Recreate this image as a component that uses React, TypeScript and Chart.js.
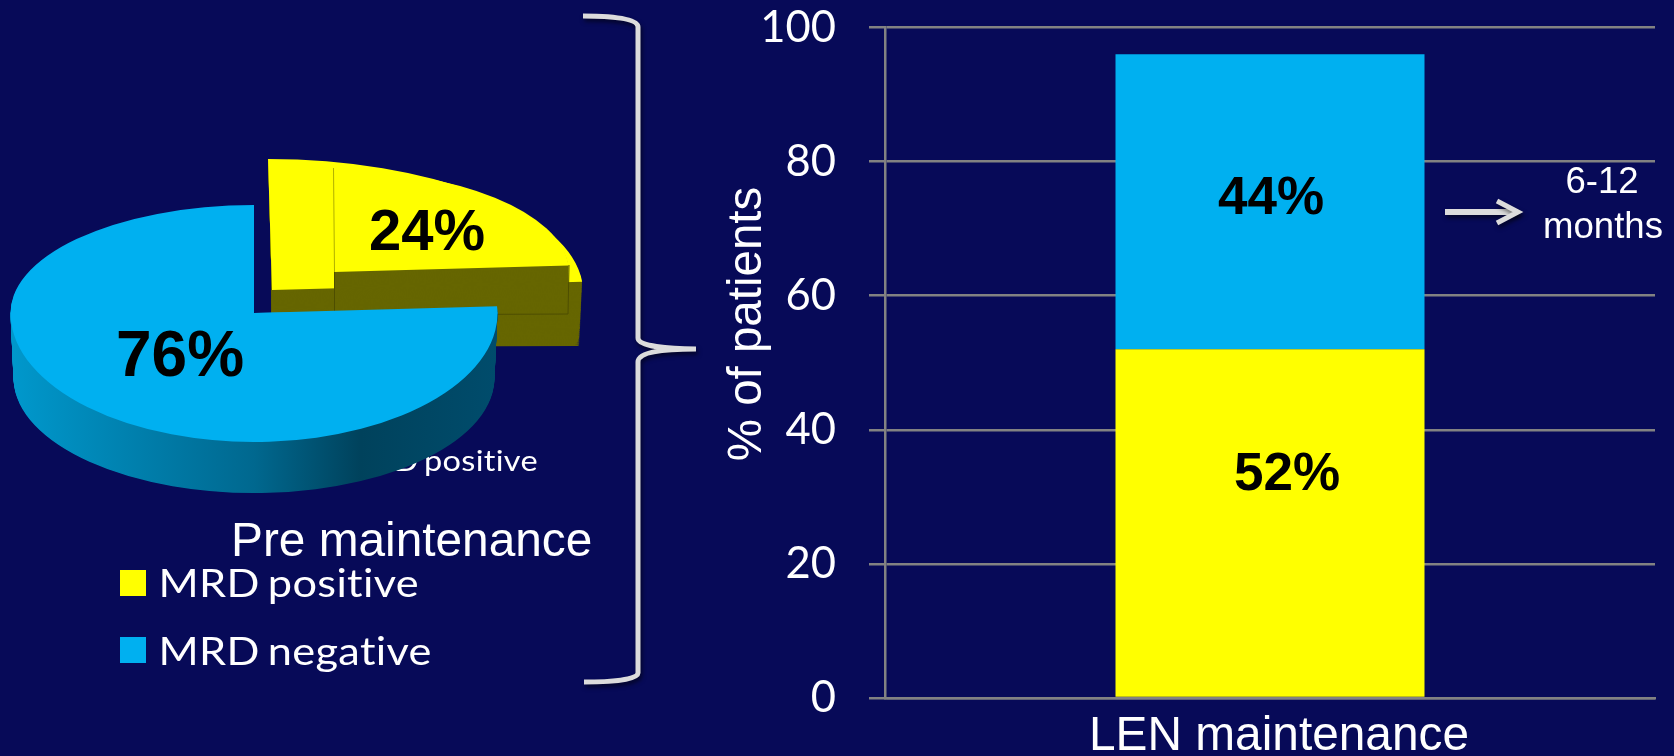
import React, { useEffect, useRef } from "react";
import { Chart, registerables } from "chart.js";

Chart.register(...registerables);

const barCategories = ["LEN maintenance"];
const mrdPositiveOnLen = [52];
const mrdNegativeOnLen = [44];
const barLabelTexts = ["52%", "44%"];
const barLabelValues = [33.8, 75];
const barLabelShift = [17, 1];
const yTicks = [0, 20, 40, 60, 80, 100];
const pieLabels = ["MRD positive", "MRD negative"];
const pieValues = [24, 76];
const pieTexts = ["24%", "76%"];

const BG = "#070a58";
const YELLOW = "#ffff00";
const BLUE = "#00b0f0";
const OLIVE = "#666600";
const GRID = "#828282";
const SANS = '"Liberation Sans", Arial, sans-serif';
const LATO = 'Lato, "Open Sans", sans-serif';

function text(ctx: any, s: string, x: number, y: number, font: string, color: string, align: any = "left", sx = 1, tight = false) {
  ctx.save();
  ctx.font = font;
  ctx.fillStyle = color;
  ctx.textAlign = align;
  ctx.textBaseline = "alphabetic";
  if (tight) {
    ctx.letterSpacing = "0.3px";
    ctx.wordSpacing = "-3px";
  }
  ctx.translate(x, y);
  ctx.scale(sx, 1);
  ctx.fillText(s, 0, 0);
  ctx.restore();
}

const annotations = {
  id: "annotations",
  afterDraw(chart: any) {
    const { ctx } = chart;
    const y = chart.scales.y;
    const meta = chart.getDatasetMeta(0).data[0];
    barLabelTexts.forEach((t, i) => {
      text(ctx, t, meta.x + barLabelShift[i], y.getPixelForValue(barLabelValues[i]) + 19, `bold 53px ${SANS}`, "#000", "center");
    });

    ctx.save();
    ctx.translate(745, 324);
    ctx.rotate(-Math.PI / 2);
    text(ctx, "% of patients", 0, 16, `47.5px ${SANS}`, "#fff", "center");
    ctx.restore();

    text(ctx, "6-12", 1602, 193, `36.6px ${SANS}`, "#fff", "center");
    text(ctx, "months", 1603, 238, `36.6px ${SANS}`, "#fff", "center");

    ctx.save();
    ctx.strokeStyle = "#dcdcdc";
    ctx.shadowColor = "rgba(0,0,0,0.55)";
    ctx.shadowBlur = 4;
    ctx.shadowOffsetX = 1.5;
    ctx.shadowOffsetY = 3;
    ctx.lineWidth = 5;
    ctx.beginPath();
    ctx.moveTo(583, 16);
    ctx.bezierCurveTo(610, 16, 638, 18, 638, 27);
    ctx.lineTo(638, 338);
    ctx.bezierCurveTo(638, 346, 668, 349, 696, 349);
    ctx.bezierCurveTo(668, 349, 638, 351, 638, 362);
    ctx.lineTo(638, 673);
    ctx.bezierCurveTo(638, 680, 610, 682, 584, 682);
    ctx.stroke();

    ctx.lineWidth = 6;
    ctx.beginPath();
    ctx.moveTo(1445, 212);
    ctx.lineTo(1518, 212);
    ctx.stroke();
    ctx.lineWidth = 5;
    ctx.beginPath();
    ctx.moveTo(1497, 201);
    ctx.lineTo(1518, 212);
    ctx.lineTo(1497, 223);
    ctx.stroke();
    ctx.restore();
  },
};

function drawFace(ctx: any, el: any, g: any, fill: any) {
  const R = el.outerRadius;
  const saved = el.options;
  el.options = { ...saved, backgroundColor: fill, borderWidth: 0, offset: 0 };
  const one = (ry: number, clip: number) => {
    ctx.save();
    if (clip) {
      ctx.beginPath();
      if (clip < 0) ctx.rect(0, 0, 2000, g.cy + 0.5);
      else ctx.rect(0, g.cy - 0.5, 2000, 1000);
      ctx.clip();
    }
    ctx.translate(g.cx, g.cy);
    ctx.transform(1, 0, g.skew || 0, 1, 0, 0);
    ctx.scale(g.rx / R, ry / R);
    ctx.translate(-el.x, -el.y);
    el.draw(ctx);
    ctx.restore();
  };
  if (g.ryDown !== undefined) {
    one(g.ry, -1);
    one(g.ryDown, 1);
  } else {
    one(g.ry, 0);
  }
  el.options = saved;
}

function mix(a: any, b: any, t: number) {
  const r: any = {};
  Object.keys(a).forEach((k) => (r[k] = a[k] + (b[k] - a[k]) * t));
  return r;
}

function extrude(ctx: any, el: any, top: any, bottom: any, fill: any) {
  const n = Math.ceil(bottom.cy - top.cy);
  for (let i = n; i >= 1; i--) drawFace(ctx, el, mix(top, bottom, i / n), fill);
}

const pie3d = {
  id: "pie3d",
  beforeDatasetsDraw(chart: any) {
    const { ctx } = chart;
    const [yellow, blue] = chart.getDatasetMeta(0).data;

    text(ctx, pieLabels[0], 538, 471, `29px ${LATO}`, "#fff", "right", 1.12, true);
    text(ctx, "Pre maintenance", 231, 556, `47.8px ${SANS}`, "#fff");

    // outer yellow slice
    const w1 = { cx: 272, cy: 290, rx: 311, ry: 131, skew: 4 / 131 };
    extrude(ctx, yellow, w1, { cx: 272, cy: 347, rx: 308, ry: 16, skew: 0 }, OLIVE);
    drawFace(ctx, yellow, w1, YELLOW);

    // inner yellow slab
    const w2 = { cx: 334, cy: 272, rx: 235, ry: 102 };
    extrude(ctx, yellow, w2, { cx: 334, cy: 315, rx: 234, ry: 16 }, OLIVE);
    drawFace(ctx, yellow, w2, YELLOW);
    ctx.save();
    ctx.lineWidth = 1;
    ctx.strokeStyle = "#b0b000";
    ctx.beginPath();
    ctx.moveTo(333.5, 168);
    ctx.lineTo(334.5, 272);
    ctx.stroke();
    ctx.strokeStyle = "#4e4e00";
    ctx.beginPath();
    ctx.moveTo(334.5, 272);
    ctx.lineTo(334.5, 315);
    ctx.lineTo(568, 314);
    ctx.lineTo(569, 265);
    ctx.stroke();
    ctx.restore();

    // blue slice with shaded side
    const R = blue.outerRadius;
    const grad = ctx.createLinearGradient(blue.x - R, 0, blue.x + R, 0);
    grad.addColorStop(0, "#0098cc");
    grad.addColorStop(0.5, "#00688f");
    grad.addColorStop(0.72, "#00425c");
    grad.addColorStop(1, "#004c6c");
    const bTop = { cx: 254, cy: 313, rx: 243.5, ry: 108, ryDown: 129 };
    extrude(ctx, blue, bTop, { cx: 254, cy: 378, rx: 240.5, ry: 108, ryDown: 115 }, grad);
    drawFace(ctx, blue, bTop, BLUE);

    text(ctx, pieTexts[0], 427, 250, `bold 58px ${SANS}`, "#000", "center");
    text(ctx, pieTexts[1], 180, 376, `bold 64px ${SANS}`, "#000", "center");

    // legend
    const legend = [
      { y: 570, base: 597 },
      { y: 637, base: 665 },
    ];
    legend.forEach((row, i) => {
      ctx.fillStyle = chart.data.datasets[0].backgroundColor[i];
      ctx.fillRect(120, row.y, 26, 26);
      text(ctx, pieLabels[i], 158.5, row.base, `39px ${LATO}`, "#fff", "left", 1.11, true);
    });
    return false;
  },
};

export default function App() {
  const barRef = useRef<HTMLCanvasElement>(null);
  const pieRef = useRef<HTMLCanvasElement>(null);

  useEffect(() => {
    document.body.style.margin = "0";
    document.body.style.background = BG;

    const bar = new Chart(barRef.current!, {
      type: "bar",
      data: {
        labels: barCategories,
        datasets: [
          { label: "MRD positive", data: mrdPositiveOnLen, backgroundColor: YELLOW, borderWidth: 0 },
          { label: "MRD negative", data: mrdNegativeOnLen, backgroundColor: BLUE, borderWidth: 0 },
        ],
      },
      options: {
        responsive: false,
        animation: false,
        events: [],
        layout: { padding: { top: 27.5, right: 19, left: 0, bottom: 0 } },
        plugins: { legend: { display: false }, tooltip: { enabled: false } },
        datasets: { bar: { categoryPercentage: 1, barPercentage: 0.4013 } },
        scales: {
          x: {
            stacked: true,
            afterFit: (s: any) => { s.height = 58; s.paddingLeft = 0; s.paddingRight = 0; },
            grid: { display: false },
            border: { display: true, color: GRID, width: 2.5 },
            ticks: {
              color: "#fff",
              maxRotation: 0,
              padding: 7,
              labelOffset: 9,
              font: { family: SANS, size: 47.8, lineHeight: 1 },
            },
          },
          y: {
            stacked: true,
            min: 0,
            max: 100,
            afterFit: (s: any) => { s.width = 885; s.paddingTop = 0; s.paddingBottom = 0; },
            afterBuildTicks: (s: any) => { s.ticks = yTicks.map((value) => ({ value })); },
            grid: { color: GRID, lineWidth: 2.5, tickLength: 16 },
            border: { display: true, color: GRID, width: 2.5 },
            ticks: {
              color: "#fff",
              padding: 33,
              font: { family: LATO, size: 43.5, lineHeight: 1 },
            },
          },
        },
      },
      plugins: [annotations],
    } as any);

    const pie = new Chart(pieRef.current!, {
      type: "pie",
      data: {
        labels: pieLabels,
        datasets: [{ data: pieValues, backgroundColor: [YELLOW, BLUE], borderWidth: 0 }],
      },
      options: {
        responsive: false,
        animation: false,
        events: [],
        plugins: { legend: { display: false }, tooltip: { enabled: false } },
      },
      plugins: [pie3d],
    } as any);

    return () => {
      bar.destroy();
      pie.destroy();
    };
  }, []);

  return (
    <div style={{ position: "fixed", inset: 0, width: 1674, height: 756, background: BG, overflow: "hidden" }}>
      <canvas ref={barRef} width={1674} height={756} style={{ position: "absolute", left: 0, top: 0, display: "block" }} />
      <canvas ref={pieRef} width={700} height={756} style={{ position: "absolute", left: 0, top: 0, display: "block" }} />
    </div>
  );
}
